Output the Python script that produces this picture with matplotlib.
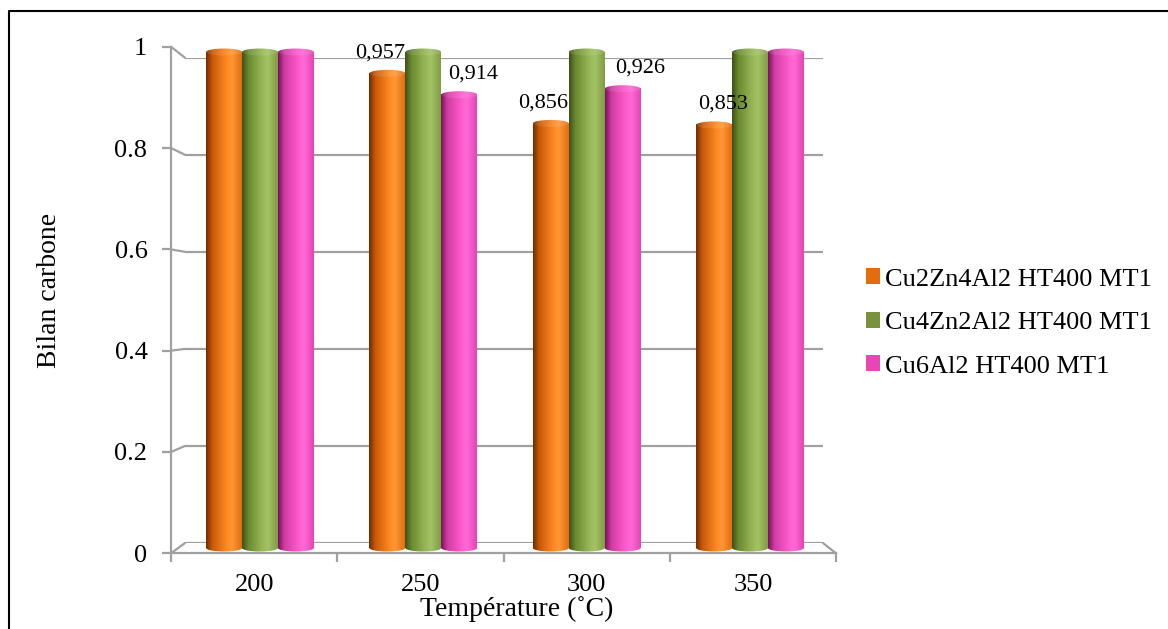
import numpy as np
import matplotlib
matplotlib.use('Agg')
import matplotlib.pyplot as plt
from matplotlib.colors import LinearSegmentedColormap
from matplotlib.patches import Ellipse, Patch, ConnectionPatch
from matplotlib.lines import Line2D

plt.rcParams['font.family'] = ['Liberation Serif', 'DejaVu Serif']

#data
temperatures = ['200', '250', '300', '350']
series_names = ['Cu2Zn4Al2 HT400 MT1', 'Cu4Zn2Al2 HT400 MT1', 'Cu6Al2 HT400 MT1']
cu2zn4al2 = [1.0, 0.957, 0.856, 0.853]
cu4zn2al2 = [1.0, 1.0, 1.0, 1.0]
cu6al2 = [1.0, 0.914, 0.926, 1.0]
# labels shown only on these bars (series index, category index, text)
labels = [(0, 1, '0,957'), (2, 1, '0,914'), (0, 2, '0,856'), (2, 2, '0,926'), (0, 3, '0,853')]
label_dx = [-7, 14, -8, 18, 9]   # px shift of the labels, as in the original
yticks = [0, 0.2, 0.4, 0.6, 0.8, 1.0]

#style
flat_colors = ['#e46c0a', '#77933c', '#e846b6']
stops = [
    ['#6e2c00', '#c85a08', '#ff8a22', '#ff9838', '#e26c10'],
    ['#3c5018', '#6a8a30', '#98b858', '#a4c266', '#7f9d42'],
    ['#74125a', '#d03ca2', '#ff5cce', '#ff6ad6', '#e444b4'],
]
stop_pos = [0, 0.18, 0.58, 0.72, 1]
grey = '#a0a0a0'
W, H = 1168, 629

def fig_rect(x0, x1, ytop, ybot):
    return [x0 / W, 1 - ybot / H, (x1 - x0) / W, (ybot - ytop) / H]

fig = plt.figure(figsize=(W / 100, H / 100), dpi=100)

# back wall (gridlines), bars (middle depth), front (ticks, labels)
ymin_b, ymax_b = -0.03, 1.03
ax_back = fig.add_axes(fig_rect(185, 823, 57.7, 543))
ax_bars = fig.add_axes(fig_rect(178.3, 831.7, 548 - ymax_b * 496, 548 - ymin_b * 496))
ax_front = fig.add_axes(fig_rect(171, 836, 46.8, 553.3))

for a in (ax_back, ax_bars, ax_front):
    a.set_xlim(0.5, len(temperatures) + 0.5)
    a.patch.set_visible(False)
ax_back.set_ylim(0, 1)
ax_front.set_ylim(0, 1)
for a in (ax_back, ax_bars):
    a.axis('off')

#gridlines on the back wall + diagonals to the front
for v in yticks:
    ax_back.axhline(v, color=grey, lw=1.6, zorder=0)
    con = ConnectionPatch(xyA=(0.5, v), coordsA=ax_front.transData,
                          xyB=(0.5, v), coordsB=ax_back.transData,
                          color=grey, lw=1.6)
    fig.add_artist(con)
con = ConnectionPatch(xyA=(4.5, 0), coordsA=ax_front.transData,
                      xyB=(4.5, 0), coordsB=ax_back.transData, color=grey, lw=1.6)
fig.add_artist(con)

#bars as cylinders
x = np.arange(1, len(temperatures) + 1)
bw = 0.22
values = [cu2zn4al2, cu4zn2al2, cu6al2]
ell_h = 7 / 496
for i, vals in enumerate(values):
    cmap = LinearSegmentedColormap.from_list('c%d' % i, list(zip(stop_pos, stops[i])))
    grad = cmap(np.linspace(0, 1, 256))[None, :, :3]
    cap = grad * 0.9 + 0.1
    bars = ax_bars.bar(x + (i - 1) * bw, vals, bw, color=flat_colors[i], zorder=2)
    for b in bars:
        x0, w, h = b.get_x(), b.get_width(), b.get_height()
        ax_bars.imshow(grad, extent=(x0, x0 + w, 0, h), aspect='auto', zorder=2.1,
                       interpolation='bilinear')
        bot = Ellipse((x0 + w / 2, 0), w, ell_h, facecolor='none', edgecolor='none')
        ax_bars.add_patch(bot)
        im = ax_bars.imshow(grad, extent=(x0, x0 + w, -ell_h, ell_h), aspect='auto',
                            zorder=2.05, interpolation='bilinear')
        im.set_clip_path(bot)
        top = Ellipse((x0 + w / 2, h), w, ell_h, facecolor='none', edgecolor='none')
        ax_bars.add_patch(top)
        im = ax_bars.imshow(cap, extent=(x0, x0 + w, h - ell_h, h + ell_h), aspect='auto',
                            zorder=2.2, interpolation='bilinear')
        im.set_clip_path(top)
ax_bars.set_xlim(0.5, len(temperatures) + 0.5)
ax_bars.set_ylim(ymin_b, ymax_b)

#data labels
for (s, c, txt), dx in zip(labels, label_dx):
    ax_bars.annotate(txt, (x[c] + (s - 1) * bw, values[s][c]), xytext=(dx * 0.72, 8),
                     textcoords='offset points', ha='center', va='bottom', fontsize=16)

#front axes: left wall edge, floor front edge, ticks
for side in ('top', 'right'):
    ax_front.spines[side].set_visible(False)
for side in ('left', 'bottom'):
    ax_front.spines[side].set_color(grey)
    ax_front.spines[side].set_linewidth(1.6)
ax_front.set_yticks(yticks)
ax_front.set_yticklabels(['%g' % v for v in yticks])
ax_front.tick_params(axis='y', colors=grey, length=6.5, width=1.6, pad=10.5,
                     labelsize=19, labelcolor='black')
ax_front.set_xticks(x)
ax_front.set_xticklabels(temperatures)
ax_front.set_xticks(list(x - 0.5) + [x[-1] + 0.5], minor=True)
ax_front.tick_params(axis='x', which='major', length=0, pad=15, labelsize=19)
ax_front.tick_params(axis='x', which='minor', length=6.5, width=1.6, colors=grey)

ax_front.set_xlabel('Température (˚C)', fontsize=20)
ax_front.xaxis.set_label_coords(0.52, -0.085)
ax_front.set_ylabel('Bilan carbone', fontsize=20)
ax_front.yaxis.set_label_coords(-0.164, 0.518)

#legend
handles = [Patch(facecolor=c) for c in flat_colors]
fig.legend(handles, series_names, loc='center left', bbox_to_anchor=(855 / W, 1 - 323 / H),
           frameon=False, fontsize=19, handlelength=0.55, handleheight=0.55,
           handletextpad=0.2, labelspacing=0.8, borderaxespad=0)

#outer frame (left and top edges)
fig.add_artist(Line2D([8.5 / W, 8.5 / W, 1], [0, 1 - 11 / H, 1 - 11 / H],
                      transform=fig.transFigure, color='black', lw=1.5))

plt.savefig('out.png', dpi=100)
